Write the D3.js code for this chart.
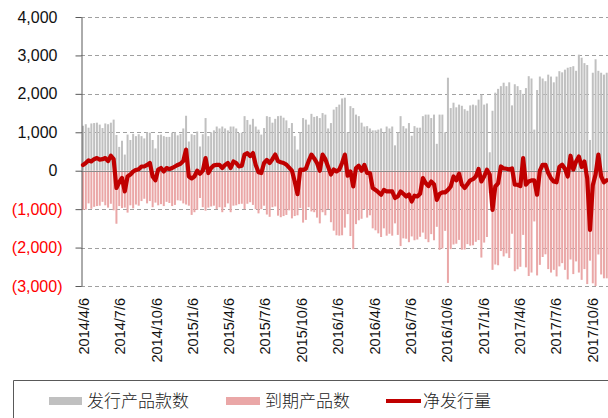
<!DOCTYPE html>
<html>
<head>
<meta charset="utf-8">
<script src="https://cdn.jsdelivr.net/npm/d3@7"></script>
<style>
  html, body { margin: 0; padding: 0; background: #fff; }
  svg { display: block; }
</style>
</head>
<body>
<svg id="chart" width="608" height="418"></svg>
<script>
// ---- Data (weekly, starting 2014/4/6) ----
const startDate = "2014/4/6";
const seriesNames = ["发行产品款数", "到期产品数", "净发行量"];

const issued = [
1170,1210,1120,1230,1240,1250,1200,1110,1230,1210,1250,1330,930,620,780,420,940,800,960,900,
950,900,840,1000,990,800,580,930,940,900,880,880,990,1000,920,960,1100,1430,760,950,
930,1020,630,950,1370,900,1000,1050,1150,1100,1150,1100,1050,1150,1150,1100,980,990,1420,1320,
1200,1350,1150,1070,940,1110,1420,1400,1250,1350,1420,1430,1380,1310,1110,1240,900,550,1000,1370,
1330,1200,1480,1400,1420,1370,1500,1460,1100,1240,1590,1660,1720,1880,1900,1000,1680,1630,1460,1420,
1250,1150,1160,1100,1050,1050,1070,1100,1000,1150,1100,1150,660,1000,1420,1160,1100,1240,910,1160,
1120,1120,1420,1460,1460,1370,1460,700,1460,1460,1000,2420,1630,1770,1650,1720,1690,1600,1560,1700,
1720,1700,1850,1980,1720,1750,480,1560,2030,2130,2200,2290,2200,2300,1700,2250,2200,2100,2000,2150,
2460,2400,1070,2100,2450,2400,2330,2500,2450,2300,2450,2590,2560,2630,2680,2700,2720,2600,3020,2940,
2800,2750,800,2550,2900,2600,2550,2500,2550
];

const matured = [
-1020,-1010,-850,-990,-940,-920,-910,-810,-900,-960,-860,-1030,-1380,-920,-970,-960,-1090,-900,-980,-880,
-910,-790,-730,-850,-790,-950,-830,-900,-870,-920,-810,-840,-920,-890,-770,-780,-850,-880,-910,-1150,
-1080,-1020,-710,-950,-1040,-960,-930,-910,-1000,-950,-1080,-950,-850,-1080,-910,-900,-870,-860,-1000,-860,
-820,-890,-1000,-1110,-1000,-910,-1140,-1200,-950,-930,-1170,-1210,-1180,-1150,-1030,-1240,-1180,-1160,-970,-1350,
-1280,-950,-1060,-1080,-1220,-1370,-1080,-1160,-1000,-1340,-1560,-1680,-1690,-1680,-1480,-1130,-1700,-2040,-1390,-1290,
-1250,-1000,-1220,-1160,-1500,-1550,-1630,-1725,-1500,-1690,-1640,-1690,-1370,-1670,-1960,-1760,-1770,-1860,-1710,-1810,
-1790,-1720,-1610,-1780,-1860,-1650,-1810,-1460,-2060,-2025,-1565,-2920,-2040,-1920,-1900,-1800,-2055,-2050,-1910,-1950,
-1940,-1850,-1805,-2260,-1870,-1725,-580,-2580,-2440,-2460,-2090,-2230,-2150,-2270,-1640,-2615,-2565,-2500,-1670,-2515,
-2740,-2650,-1320,-2725,-2450,-2245,-2175,-2560,-2650,-2580,-2750,-2490,-2405,-2580,-2830,-2310,-2690,-2360,-2650,-2840,
-2560,-2950,-2340,-2930,-3000,-2180,-2700,-2800,-2800
];

const netIssued = [
150,200,270,240,300,330,290,300,330,250,390,300,-450,-300,-190,-540,-150,-100,-20,20,
40,110,110,150,200,-150,-250,30,70,-20,70,40,70,110,150,180,250,550,-150,-200,
-150,0,-80,0,330,-60,70,140,150,150,70,150,200,70,240,200,110,130,420,460,
380,460,150,-40,-60,200,280,200,300,420,250,220,200,160,80,0,-280,-610,30,20,
50,250,420,320,200,0,420,300,100,-100,30,-20,30,200,420,-130,-20,-410,70,130,
0,150,-60,-60,-450,-500,-560,-625,-500,-540,-540,-540,-710,-670,-540,-600,-670,-620,-800,-650,
-670,-600,-190,-320,-400,-280,-350,-760,-600,-565,-565,-500,-410,-150,-250,-80,-365,-450,-350,-250,
-220,-150,45,-280,-150,25,-100,-1020,-410,-330,110,60,50,30,60,-365,-365,-400,330,-365,
-280,-250,-250,-625,0,155,155,-60,-200,-280,-300,100,155,50,-150,390,30,240,370,100,
240,-200,-1540,-380,-100,420,-150,-300,-250
];

const xTickLabels = ["2014/4/6","2014/7/6","2014/10/6","2015/1/6","2015/4/6","2015/7/6","2015/10/6",
  "2016/1/6","2016/4/6","2016/7/6","2016/10/6","2017/1/6","2017/4/6","2017/7/6","2017/10/6"];
const yTicks = [4000, 3000, 2000, 1000, 0, -1000, -2000, -3000];

// ---- Helpers ----
function parseDate(s) { const p = s.split("/").map(Number); return new Date(p[0], p[1] - 1, p[2]); }
const d0 = parseDate(startDate);
const dates = issued.map((_, i) => d3.timeDay.offset(d0, 7 * i));
const tickDates = xTickLabels.map(parseDate);

const svg = d3.select("#chart");
const plotLeft = 81, plotTop = 17, plotBottom = 286;

const x = d3.scaleTime()
  .domain([parseDate("2014/4/6"), parseDate("2017/10/6")])
  .range([83, 592]);
const y = d3.scaleLinear().domain([-3000, 4000]).range([plotBottom, plotTop]);

const fmt = v => v < 0 ? "(" + d3.format(",")(-v) + ")" : d3.format(",")(v);

// gridlines
svg.append("g")
  .selectAll("line")
  .data(yTicks.filter(v => v !== 0))
  .join("line")
  .attr("x1", plotLeft).attr("x2", 608)
  .attr("y1", d => Math.round(y(d)) + 0.5).attr("y2", d => Math.round(y(d)) + 0.5)
  .attr("stroke", "#a0a0a0").attr("stroke-width", 1)
  .attr("stroke-dasharray", "4,3");

// bars
const bw = 2;
svg.append("g").selectAll("rect")
  .data(issued)
  .join("rect")
  .attr("x", (d, i) => x(dates[i]) - bw / 2)
  .attr("y", d => y(d))
  .attr("width", bw)
  .attr("height", d => y(0) - y(d))
  .attr("fill", "#c0c0c0");

svg.append("g").selectAll("rect")
  .data(matured)
  .join("rect")
  .attr("x", (d, i) => x(dates[i]) - bw / 2)
  .attr("y", y(0))
  .attr("width", bw)
  .attr("height", d => y(d) - y(0))
  .attr("fill", "#eaa7a7");

// zero line
svg.append("line")
  .attr("x1", plotLeft).attr("x2", 608)
  .attr("y1", Math.round(y(0)) + 0.5).attr("y2", Math.round(y(0)) + 0.5)
  .attr("stroke", "#8c8c8c").attr("stroke-width", 1);

// y axis
const yAxis = svg.append("g")
  .attr("transform", `translate(${plotLeft + 0.5},0)`)
  .call(d3.axisLeft(y).tickValues(yTicks).tickSize(6).tickSizeOuter(0).tickFormat(fmt));
yAxis.select(".domain").attr("stroke", "#595959");
yAxis.selectAll(".tick line").attr("stroke", "#595959");
yAxis.selectAll(".tick text")
  .attr("font-family", "'Liberation Sans', Arial, sans-serif")
  .attr("font-size", 16)
  .attr("x", d => d < 0 ? -19 : -24)
  .attr("fill", d => d < 0 ? "#ff0000" : "#111");

// x axis labels
const xAxis = svg.append("g")
  .attr("transform", `translate(0,${plotBottom})`)
  .call(d3.axisBottom(x).tickValues(tickDates).tickSize(0).tickFormat((d, i) => xTickLabels[i]));
xAxis.select(".domain").remove();
xAxis.selectAll(".tick text")
  .attr("font-family", "'Liberation Sans', Arial, sans-serif")
  .attr("font-size", 14.5)
  .attr("fill", "#111")
  .attr("text-anchor", "end")
  .attr("transform", "rotate(-90)")
  .attr("x", -12)
  .attr("y", 0)
  .attr("dy", "0.36em");

// net line
const line = d3.line()
  .x((d, i) => x(dates[i]))
  .y(d => y(d));
svg.append("path")
  .datum(netIssued)
  .attr("d", line)
  .attr("fill", "none")
  .attr("stroke", "#c00000")
  .attr("stroke-width", 4.2)
  .attr("stroke-linejoin", "round")
  .attr("stroke-linecap", "round");

// legend frame
const lg = svg.append("g");
lg.append("path")
  .attr("d", "M13.5,418 L13.5,380.5 L608,380.5")
  .attr("fill", "none").attr("stroke", "#595959").attr("stroke-width", 1);

const legendFont = "'Noto Sans CJK SC', 'Noto Sans', sans-serif";
lg.append("rect").attr("x", 49).attr("y", 397).attr("width", 33).attr("height", 8).attr("fill", "#c0c0c0");
lg.append("text").attr("x", 87).attr("y", 401).attr("dy", "0.35em")
  .attr("font-family", legendFont).attr("font-size", 17).attr("font-weight", 300).attr("fill", "#222").text(seriesNames[0]);
lg.append("rect").attr("x", 226).attr("y", 397).attr("width", 34).attr("height", 8).attr("fill", "#eaa7a7");
lg.append("text").attr("x", 265).attr("y", 401).attr("dy", "0.35em")
  .attr("font-family", legendFont).attr("font-size", 17).attr("font-weight", 300).attr("fill", "#222").text(seriesNames[1]);
lg.append("line").attr("x1", 386).attr("x2", 421).attr("y1", 401).attr("y2", 401)
  .attr("stroke", "#c00000").attr("stroke-width", 4);
lg.append("text").attr("x", 423).attr("y", 401).attr("dy", "0.35em")
  .attr("font-family", legendFont).attr("font-size", 17).attr("font-weight", 300).attr("fill", "#222").text(seriesNames[2]);
</script>
</body>
</html>
